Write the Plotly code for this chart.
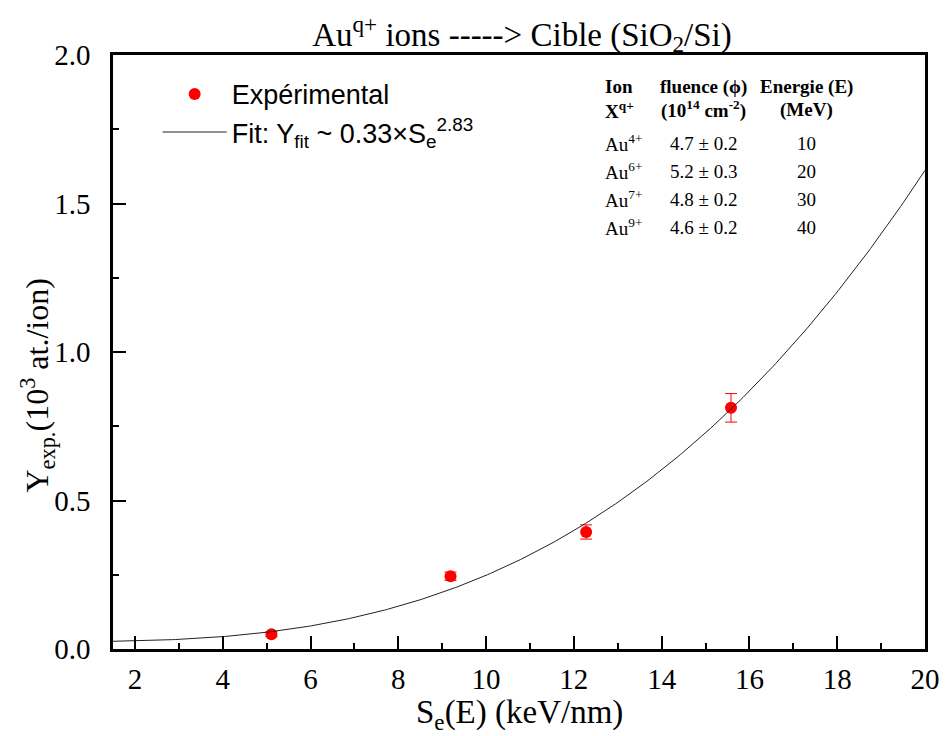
import numpy as np
import plotly.graph_objects as go

# Sputtering yield vs electronic stopping power, Au ions on SiO2/Si
se_exp = [5.11, 9.19, 12.28, 15.58]          # S_e(E) in keV/nm
y_exp = [0.050, 0.245, 0.394, 0.812]         # yield in 10^3 at./ion
y_err = [0.008, 0.014, 0.024, 0.048]

# power-law fit Y ~ A * S_e^B (A in at./ion, plotted in 10^3 at./ion)
fit_a = 0.33
fit_b = 2.83
fit_y0 = 0.025
fit_x_min, fit_x_max = 1.5, 20.0

# irradiation conditions table
tab_ion = ["Au<sup>4+</sup>", "Au<sup>6+</sup>", "Au<sup>7+</sup>", "Au<sup>9+</sup>"]
tab_fluence = ["4.7 ± 0.2", "5.2 ± 0.3", "4.8 ± 0.2", "4.6 ± 0.2"]
tab_energy = ["10", "20", "30", "40"]

x_ticks = [2, 4, 6, 8, 10, 12, 14, 16, 18, 20]
x_minor = [3, 5, 7, 9, 11, 13, 15, 17, 19]
y_ticks = [0.0, 0.5, 1.0, 1.5, 2.0]
y_minor = [0.25, 0.75, 1.25, 1.75]

SERIF = "Liberation Serif"
SANS = "Liberation Sans"

fit_x = np.linspace(fit_x_min, fit_x_max, 300)
fit_y = fit_y0 + fit_a * 1e-3 * fit_x ** fit_b

fig = go.Figure()
fig.add_trace(go.Scatter(
    x=se_exp, y=y_exp, mode="markers", name="Expérimental",
    marker=dict(color="#ff0000", size=12, line=dict(width=0)),
    error_y=dict(type="data", array=y_err, color="#ff0000", thickness=1, width=6),
))
fig.add_trace(go.Scatter(
    x=fit_x, y=fit_y, mode="lines",
    name="Fit: Y<sub>fit</sub> ~ 0.33×S<sub>e</sub><sup>2.83</sup>",
    line=dict(color="#222222", width=1),
))

L, R, T, B = 113, 21, 55, 87
W, H = 952, 736
pw, ph = W - L - R, H - T - B


def py(px):
    return (H - B - px) / ph


def pxx(px):
    return (px - L) / pw


ann = []
# table headers
for col_x, anchor, r1, r2 in [
    (607, "left", "<b>Ion</b>", "<b>X<sup>q+</sup></b>"),
    (708, "center", "<b>fluence (ϕ)</b>", "<b>(10<sup>14</sup> cm<sup>-2</sup>)</b>"),
    (812, "center", "<b>Energie (E)</b>", "<b>(MeV)</b>"),
]:
    ann.append(dict(x=pxx(col_x), y=py(87), text=r1, xanchor=anchor))
    ann.append(dict(x=pxx(col_x), y=py(110), text=r2, xanchor=anchor))
row_y = [143, 171, 199, 227]
for i in range(len(tab_ion)):
    ann.append(dict(x=pxx(607), y=py(row_y[i]), text=tab_ion[i], xanchor="left"))
    ann.append(dict(x=pxx(708), y=py(row_y[i]), text=tab_fluence[i], xanchor="center"))
    ann.append(dict(x=pxx(812), y=py(row_y[i]), text=tab_energy[i], xanchor="center"))
for a in ann:
    a.update(xref="paper", yref="paper", yanchor="middle", showarrow=False,
             font=dict(family=SERIF, size=19, color="black"))

# axis titles
ann.append(dict(
    x=pxx(36), y=py(386), xref="paper", yref="paper", showarrow=False,
    text="Y<sub>exp.</sub>(10<sup>3</sup> at./ion)", textangle=-90,
    xanchor="center", yanchor="middle",
    font=dict(family=SERIF, size=32, color="black"),
))
ann.append(dict(
    x=pxx(522), y=py(714), xref="paper", yref="paper", showarrow=False,
    text="S<sub>e</sub>(E) (keV/nm)",
    xanchor="center", yanchor="middle",
    font=dict(family=SERIF, size=33, color="black"),
))

fig.update_layout(
    width=W, height=H,
    margin=dict(l=L, r=R, t=T, b=B),
    paper_bgcolor="white", plot_bgcolor="white",
    font=dict(family=SERIF, size=29, color="black"),
    title=dict(
        text="Au<sup>q+</sup> ions -----> Cible (SiO<sub>2</sub>/Si)",
        x=(L + pw / 2) / W, xanchor="center", y=1 - 34 / H, yanchor="middle",
        font=dict(family=SERIF, size=33, color="black"),
    ),
    legend=dict(
        x=0.055, y=0.975, xanchor="left", yanchor="top",
        bgcolor="rgba(0,0,0,0)", itemwidth=64,
        font=dict(family=SANS, size=27, color="black"),
        tracegroupgap=0,
    ),
    annotations=ann,
    showlegend=True,
)

for upd, rng, tv, mv, tt, standoff in [
    (fig.update_xaxes, [fit_x_min, 20.0], x_ticks, x_minor, [str(v) for v in x_ticks], 2),
    (fig.update_yaxes, [0, 2.0], y_ticks, y_minor, ["%.1f" % v for v in y_ticks], 14),
]:
    upd(
        range=rng, tickmode="array", tickvals=tv, ticktext=tt,
        showline=True, linecolor="black", linewidth=2.5, mirror=True,
        ticks="inside", ticklen=13, tickwidth=2, tickcolor="black",
        showgrid=False, zeroline=False,
        tickfont_family=SERIF, tickfont_size=29, tickfont_color="black",
        ticklabelstandoff=standoff,
        minor=dict(tickmode="array", tickvals=mv, ticks="inside",
                   ticklen=6, tickwidth=2, tickcolor="black", showgrid=False),
    )

fig.write_html("out.html")
